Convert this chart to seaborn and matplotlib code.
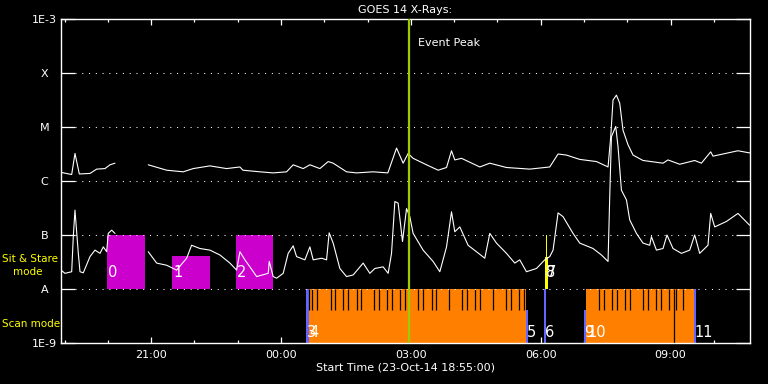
import numpy as np
import pandas as pd
import matplotlib
matplotlib.use("Agg")
import matplotlib.pyplot as plt
from matplotlib.ticker import FixedLocator, NullLocator
import seaborn as sns

# ---------------- data (time = hours after 23-Oct-14 18:55:00) ----------------
start_clock = "18:55"

# GOES long channel (1-8 A), log10 W/m^2 (nan = data gap)
long_hours = [0.000, 0.247, 0.323, 0.423, 0.670, 0.824, 1.016, 1.132, 1.247, 1.60,
              2.016, 2.441, 2.824, 3.055, 3.441, 3.827, 4.134, 4.203, 4.596, 4.903,
              5.212, 5.365, 5.596, 5.751, 5.982, 6.173, 6.289, 6.598, 6.829, 7.212,
              7.552, 7.753, 7.905, 8.021, 8.136, 8.446, 8.714, 8.908, 9.023, 9.099,
              9.254, 9.677, 9.908, 10.293, 10.831, 11.293, 11.485, 11.679, 11.986, 12.372,
              12.640, 12.702, 12.755, 12.834, 12.910, 12.986, 13.102, 13.217, 13.448, 13.910,
              14.025, 14.296, 14.642, 14.797, 15.012, 15.065, 15.642, 15.912]
long_log10 = [-5.84, -5.88, -5.49, -5.87, -5.86, -5.78, -5.77, -5.70, -5.67, np.nan,
              -5.70, -5.80, -5.83, -5.77, -5.72, -5.77, -5.74, -5.80, -5.83, -5.85,
              -5.83, -5.70, -5.77, -5.70, -5.77, -5.64, -5.67, -5.83, -5.85, -5.83,
              -5.85, -5.39, -5.67, -5.49, -5.58, -5.70, -5.80, -5.75, -5.44, -5.61,
              -5.58, -5.74, -5.67, -5.75, -5.78, -5.74, -5.50, -5.52, -5.60, -5.64,
              -5.74, -5.18, -4.50, -4.41, -4.56, -5.06, -5.33, -5.52, -5.62, -5.67,
              -5.61, -5.69, -5.62, -5.67, -5.46, -5.54, -5.44, -5.48]

# GOES short channel (0.5-4 A), log10 W/m^2
short_hours = [0.000, 0.092, 0.247, 0.284, 0.323, 0.400, 0.439, 0.515, 0.670, 0.785,
               0.901, 0.977, 1.055, 1.092, 1.171, 1.247, 1.60, 2.016, 2.210, 2.441,
               2.672, 2.903, 3.018, 3.210, 3.441, 3.672, 3.903, 4.058, 4.134, 4.249,
               4.365, 4.520, 4.788, 4.811, 4.903, 4.982, 5.134, 5.249, 5.365, 5.443,
               5.635, 5.751, 5.827, 6.021, 6.136, 6.196, 6.289, 6.443, 6.598, 6.751,
               6.982, 7.136, 7.252, 7.443, 7.559, 7.637, 7.714, 7.790, 7.891, 7.984,
               8.060, 8.136, 8.367, 8.598, 8.753, 8.908, 9.023, 9.099, 9.215, 9.406,
               9.600, 9.792, 9.908, 10.062, 10.293, 10.485, 10.600, 10.755, 10.986, 11.178,
               11.293, 11.370, 11.485, 11.600, 11.831, 11.986, 12.293, 12.487, 12.640, 12.679,
               12.718, 12.818, 12.871, 12.949, 13.065, 13.141, 13.296, 13.448, 13.603, 13.642,
               13.758, 13.910, 14.002, 14.141, 14.335, 14.527, 14.642, 14.758, 14.949, 15.012,
               15.104, 15.374, 15.642, 15.912]
short_log10 = [-7.65, -7.71, -7.68, -7.03, -6.54, -7.34, -7.68, -7.70, -7.40, -7.28,
               -7.34, -7.22, -7.31, -6.97, -6.91, -6.97, np.nan, -7.31, -7.52, -7.56,
               -7.65, -7.43, -7.19, -7.25, -7.28, -7.37, -7.52, -7.65, -7.31, -7.46,
               -7.59, -7.77, -7.71, -7.49, -7.77, -7.80, -7.71, -7.34, -7.20, -7.40,
               -7.46, -7.22, -7.46, -7.43, -7.46, -6.96, -7.15, -7.62, -7.77, -7.74,
               -7.52, -7.71, -7.62, -7.59, -7.71, -7.34, -6.38, -6.41, -7.12, -6.51,
               -6.66, -6.97, -7.28, -7.49, -7.68, -7.22, -6.57, -6.94, -6.85, -7.19,
               -7.31, -7.43, -6.97, -7.15, -7.34, -7.52, -7.46, -7.68, -7.62, -7.46,
               -7.40, -7.28, -6.59, -6.66, -6.97, -7.15, -7.25, -7.37, -7.49, -6.29,
               -5.18, -4.99, -5.37, -6.17, -6.35, -6.72, -6.97, -7.15, -7.19, -7.03,
               -7.28, -7.25, -7.00, -7.25, -7.34, -7.28, -7.00, -7.34, -7.19, -6.60,
               -6.85, -6.75, -6.60, -6.82]

# observations
obs_labels = ["0", "1", "2", "3", "4", "5", "6", "7", "8", "9", "10", "11"]
obs_start = [1.062, 2.571, 4.042, 5.658, 5.727, 10.739, 11.155, 11.205, 11.194, 12.079, 12.141, 14.619]
obs_end = [1.940, 3.441, 4.903, 5.727, 10.739, 10.801, 11.217, 11.231, 11.247, 12.141, 14.619, 14.681]
obs_mode = ["sit", "sit", "sit", "scan", "scan", "scan", "scan", "sit", "sit", "scan", "scan", "scan"]
obs_top_log10 = [-7.0, -7.38, -7.0, -8.0, -8.0, -8.39, -8.0, -7.0, -7.40, -8.39, -8.0, -8.0]
obs_kind = ["ss", "ss", "ss", "edge", "raster", "edge", "edge", "short", "short", "edge", "raster", "edge"]
kind_colors = {"ss": "#cc00cc", "edge": "#6464ff", "raster": "#ff8000", "short": "#ffff00"}

# raster step markers (hours)
step_hours = [5.734, 5.804, 5.919, 6.229, 6.335, 6.520, 6.635, 6.829, 6.935, 7.236,
              7.351, 7.536, 7.651, 7.829, 7.952, 8.252, 8.367, 8.561, 8.661, 8.968,
              9.268, 9.376, 9.561, 9.677, 9.984, 10.284, 10.393, 10.584, 10.693,
              12.432, 12.547, 12.732, 12.848, 13.032, 13.141, 13.448, 13.564, 13.748,
              13.857, 14.048, 14.219, 14.372]
long_step_hours = [14.164]

event_peak_hours = 8.04

xtick_labels = ["21:00", "00:00", "03:00", "06:00", "09:00"]
ytick_values = [1e-9, 1e-8, 1e-7, 1e-6, 1e-5, 1e-4, 1e-3]
ytick_labels = ["1E-9", "A", "B", "C", "M", "X", "1E-3"]


def clock_to_hours(s):
    h, m = map(int, s.split(":"))
    h0, m0 = map(int, start_clock.split(":"))
    return ((h * 60 + m) - (h0 * 60 + m0)) % 1440 / 60.0


# ---------------- figure ----------------
sns.set_theme(style="dark", rc={"axes.facecolor": "black", "figure.facecolor": "black"})
plt.rcParams["font.family"] = ["DejaVu Sans"]

W, H = 768, 384
fig = plt.figure(figsize=(7.68, 3.84), dpi=100)
L, R, T, B = 61, 750, 19, 343
ax = fig.add_axes([L / W, 1 - B / H, (R - L) / W, (B - T) / H])
ax.set_facecolor("black")

# observation boxes
bottoms = [1e-8 if m == "sit" else 1e-9 for m in obs_mode]
tops = [10 ** t for t in obs_top_log10]
heights = [t - b for t, b in zip(tops, bottoms)]
widths = [e - s for s, e in zip(obs_start, obs_end)]
colors = [kind_colors[k] for k in obs_kind]
ax.bar(obs_start, heights, width=widths, bottom=bottoms, align="edge",
       color=colors, linewidth=0, zorder=1)

ax.vlines(step_hours, 10 ** -8.39, 1e-8, colors="black", linewidth=0.9, zorder=2)
ax.vlines(long_step_hours, 1e-9, 1e-8, colors="black", linewidth=0.9, zorder=2)

# curves
frames = []
for name, hrs, lg in [("long", long_hours, long_log10), ("short", short_hours, short_log10)]:
    d = pd.DataFrame({"hours": hrs, "log10": lg})
    d["seg"] = d["log10"].isna().cumsum()
    d["unit"] = name + d["seg"].astype(str)
    d = d.dropna()
    d["flux"] = 10 ** d["log10"]
    frames.append(d)
df = pd.concat(frames, ignore_index=True)
sns.lineplot(data=df, x="hours", y="flux", units="unit", estimator=None, sort=False,
             color="white", linewidth=0.8, legend=False, ax=ax, zorder=3)

ax.set_yscale("log")
ax.set_ylim(1e-9, 1e-3)
ax.set_xlim(0, 15.92)

# dotted level lines
frac = 14 / (R - L)
for v in ytick_values[1:-1]:
    ax.axhline(v, xmin=frac, xmax=1 - frac, color="white", linewidth=0.75,
               linestyle=(0, (1, 5.5)), zorder=2.5)

# event peak
ax.axvline(event_peak_hours, color="#9acc00", linewidth=1.6, zorder=4)
ax.annotate("Event Peak", xy=(event_peak_hours, 10 ** -3.44), xytext=(6.5, 0),
            textcoords="offset points", color="white", fontsize=8, va="center", ha="left",
            zorder=5)

# observation labels
for lab, s, m in zip(obs_labels, obs_start, obs_mode):
    yv = 10 ** (-7.70 if m == "sit" else -8.80)
    ax.annotate(lab, xy=(s, yv), xytext=(0.6, 0), textcoords="offset points",
                color="white", fontsize=10.5, va="center", ha="left", zorder=5)

# axes styling
for sp in ax.spines.values():
    sp.set_color("white")
    sp.set_linewidth(1.0)
ax.grid(False)
ax.set_xlabel("")
ax.set_ylabel("")

ax.yaxis.set_major_locator(FixedLocator(ytick_values))
ax.yaxis.set_minor_locator(NullLocator())
ax.set_yticklabels(ytick_labels, ha="center")
ax.tick_params(axis="y", which="major", direction="in", length=10, width=0.9,
               left=True, right=True, colors="white", labelsize=8, pad=12)

ax.set_xticks([clock_to_hours(s) for s in xtick_labels])
ax.set_xticklabels(xtick_labels)
ax.xaxis.set_minor_locator(FixedLocator([clock_to_hours(f"{h:02d}:00") for h in
                                         [19, 20, 22, 23, 1, 2, 4, 5, 7, 8, 10]]))
ax.tick_params(axis="x", which="major", direction="in", length=4.5, width=0.9,
               top=True, bottom=True, colors="white", labelsize=8, pad=5)
ax.tick_params(axis="x", which="minor", direction="in", length=2.2, width=0.9,
               top=True, bottom=True, colors="white")

# texts outside the axes
fig.text(405 / W, 1 - 10 / H, "GOES 14 X-Rays:", color="white", fontsize=8,
         ha="center", va="center")
fig.text(405 / W, 1 - 368 / H, "Start Time (23-Oct-14 18:55:00)", color="white",
         fontsize=8, ha="center", va="center")
fig.text(2 / W, 1 - 259 / H, "Sit & Stare", color="#ffff00", fontsize=7.5,
         ha="left", va="center")
fig.text(13 / W, 1 - 272 / H, "mode", color="#ffff00", fontsize=7.5,
         ha="left", va="center")
fig.text(2 / W, 1 - 324 / H, "Scan mode", color="#ffff00", fontsize=7.5,
         ha="left", va="center")

fig.savefig("out.png", dpi=100, facecolor="black")
